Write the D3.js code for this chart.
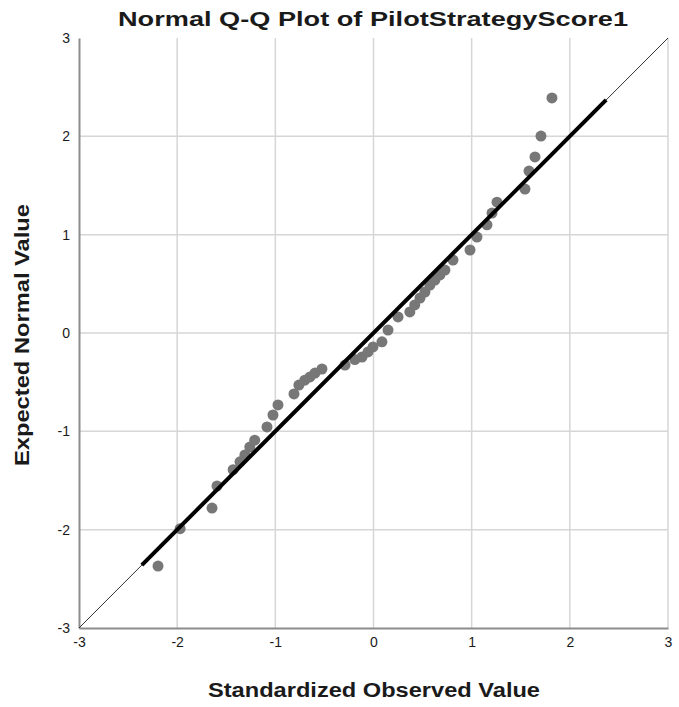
<!DOCTYPE html>
<html>
<head>
<meta charset="utf-8">
<script src="https://cdn.jsdelivr.net/npm/d3@7"></script>
<style>
  body { margin: 0; background: #fff; }
  text { font-family: "Liberation Sans", Arial, sans-serif; fill: #1a1a1a; }
</style>
</head>
<body>
<div id="chart"></div>
<script>
// standardized observed value (x) and expected normal value (y)
const observed = [-2.195, -1.97, -1.645, -1.594, -1.43, -1.36, -1.31, -1.26, -1.21, -1.085,
  -1.024, -0.973, -0.81, -0.76, -0.70, -0.647, -0.596, -0.525, -0.29, -0.19,
  -0.117, -0.056, -0.005, 0.086, 0.148, 0.25, 0.37, 0.42, 0.474, 0.524,
  0.575, 0.626, 0.677, 0.728, 0.81, 0.983, 1.054, 1.156, 1.207, 1.258,
  1.543, 1.584, 1.645, 1.706, 1.818];
const expected = [-2.37, -1.99, -1.78, -1.556, -1.39, -1.31, -1.24, -1.16, -1.09, -0.955,
  -0.834, -0.732, -0.62, -0.53, -0.48, -0.447, -0.407, -0.366, -0.326, -0.27,
  -0.244, -0.193, -0.142, -0.09, 0.03, 0.163, 0.214, 0.285, 0.356, 0.417,
  0.488, 0.539, 0.59, 0.64, 0.742, 0.844, 0.976, 1.10, 1.22, 1.33,
  1.464, 1.647, 1.79, 2.003, 2.39];
const refRange = [-2.36, 2.37];   // heavy reference line
const axisTicks = [-3, -2, -1, 0, 1, 2, 3];

const width = 679, height = 707;
const margin = { top: 38, right: 11, bottom: 79, left: 79 };

const svg = d3.select("#chart").append("svg")
  .attr("width", width)
  .attr("height", height);

const x = d3.scaleLinear().domain([-3, 3]).range([margin.left, width - margin.right]);
const y = d3.scaleLinear().domain([-3, 3]).range([height - margin.bottom, margin.top]);

// grid
svg.append("g")
  .selectAll("line")
  .data(axisTicks.slice(1))
  .join("line")
  .attr("x1", d => x(d)).attr("x2", d => x(d))
  .attr("y1", y(3)).attr("y2", y(-3))
  .attr("stroke", "#d6d6d6")
  .attr("stroke-width", 1.5);

svg.append("g")
  .selectAll("line")
  .data(axisTicks.slice(1, -1))
  .join("line")
  .attr("x1", x(-3)).attr("x2", x(3))
  .attr("y1", d => y(d)).attr("y2", d => y(d))
  .attr("stroke", "#d6d6d6")
  .attr("stroke-width", 1.5);

// axes
const fmt = d => String(d);
const xAxis = svg.append("g")
  .attr("transform", `translate(0,${y(-3)})`)
  .call(d3.axisBottom(x).tickValues(axisTicks).tickFormat(fmt).tickSize(0).tickPadding(9));
const yAxis = svg.append("g")
  .attr("transform", `translate(${x(-3)},0)`)
  .call(d3.axisLeft(y).tickValues(axisTicks).tickFormat(fmt).tickSize(0).tickPadding(9));

[xAxis, yAxis].forEach(g => {
  g.select(".domain").attr("stroke", "#8c8c8c").attr("stroke-width", 2);
  g.selectAll("text")
    .style("font-family", "'Liberation Sans', Arial, sans-serif")
    .style("font-size", "14px")
    .attr("fill", "#1a1a1a");
});

// thin diagonal
svg.append("line")
  .attr("x1", x(-3)).attr("y1", y(-3))
  .attr("x2", x(3)).attr("y2", y(3))
  .attr("stroke", "#333")
  .attr("stroke-width", 1);

// points
svg.append("g")
  .selectAll("circle")
  .data(observed.map((v, i) => [v, expected[i]]))
  .join("circle")
  .attr("cx", d => x(d[0]))
  .attr("cy", d => y(d[1]))
  .attr("r", 5.5)
  .attr("fill", "#777777");

// heavy reference line
svg.append("line")
  .attr("x1", x(refRange[0])).attr("y1", y(refRange[0]))
  .attr("x2", x(refRange[1])).attr("y2", y(refRange[1]))
  .attr("stroke", "#000")
  .attr("stroke-width", 4);

// titles
svg.append("text")
  .attr("x", 373).attr("y", 26)
  .attr("text-anchor", "middle")
  .style("font-size", "21px")
  .style("font-weight", "bold")
  .attr("textLength", 510)
  .attr("lengthAdjust", "spacingAndGlyphs")
  .text("Normal Q-Q Plot of PilotStrategyScore1");

svg.append("text")
  .attr("x", 374).attr("y", 697)
  .attr("text-anchor", "middle")
  .style("font-size", "20px")
  .style("font-weight", "bold")
  .attr("textLength", 332)
  .attr("lengthAdjust", "spacingAndGlyphs")
  .text("Standardized Observed Value");

svg.append("text")
  .attr("transform", "translate(29,335) rotate(-90)")
  .attr("text-anchor", "middle")
  .style("font-size", "20px")
  .style("font-weight", "bold")
  .attr("textLength", 262)
  .attr("lengthAdjust", "spacingAndGlyphs")
  .text("Expected Normal Value");
</script>
</body>
</html>
